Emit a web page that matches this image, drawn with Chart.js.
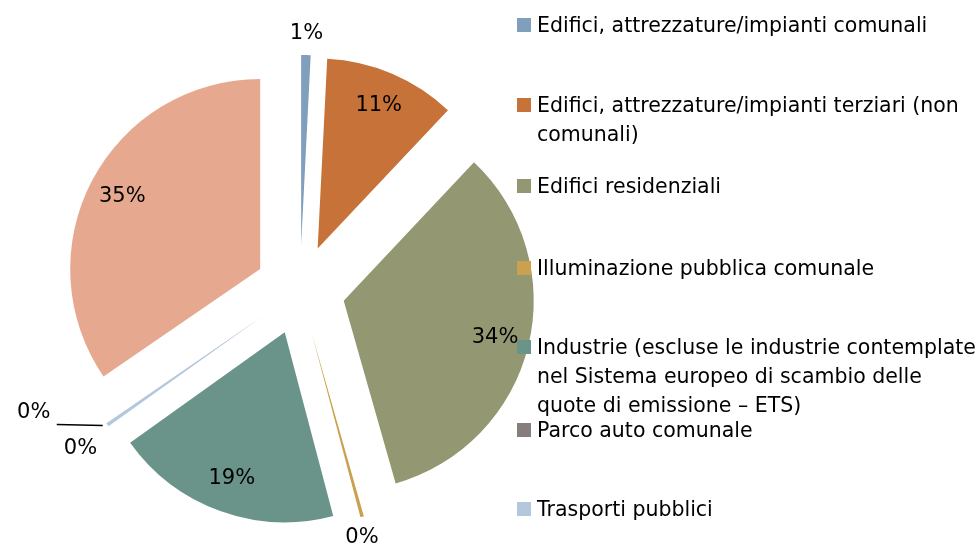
<!DOCTYPE html>
<html>
<head>
<meta charset="utf-8">
<script src="https://cdn.jsdelivr.net/npm/chart.js@4.4.0/dist/chart.umd.min.js"></script>
<style>
  body { margin: 0; background: #fff; overflow: hidden; }
  #wrap { position: relative; width: 978px; height: 552px; }
  #legend { position: absolute; left: 0; top: 0; font-family: "DejaVu Sans"; font-size: 20.5px; color: #000; }
  .item { position: absolute; left: 517px; white-space: nowrap; line-height: 29px; }
  .box { position: absolute; left: 0; top: 7px; width: 14px; height: 14px; }
  .txt { position: absolute; left: 20px; top: 0; }
</style>
</head>
<body>
<div id="wrap">
  <canvas id="pie" width="978" height="552"></canvas>
  <div id="legend"></div>
</div>
<script>
const labels = [
  "Edifici, attrezzature/impianti comunali",
  "Edifici, attrezzature/impianti terziari (non comunali)",
  "Edifici residenziali",
  "Illuminazione pubblica comunale",
  "Industrie (escluse le industrie contemplate nel Sistema europeo di scambio delle quote di emissione – ETS)",
  "Parco auto comunale",
  "Trasporti pubblici",
  "Trasporti privati e commerciali"
];
const values = [0.8, 11.2, 33.5, 0.3, 19.2, 0, 0.3, 34.5];
const colors = ["#809fbc", "#c67239", "#939872", "#c9a14f", "#6a9489", "#877d7d", "#b3c8dc", "#e6a990"];

// legend as shown in the picture (last category is cut off there)
const legendLines = [
  ["Edifici, attrezzature/impianti comunali"],
  ["Edifici, attrezzature/impianti terziari (non", "comunali)"],
  ["Edifici residenziali"],
  ["Illuminazione pubblica comunale"],
  ["Industrie (escluse le industrie contemplate", "nel Sistema europeo di scambio delle", "quote di emissione – ETS)"],
  ["Parco auto comunale"],
  ["Trasporti pubblici"]
];
const legendTops = [11, 91, 172, 254, 333, 416, 495];

const total = values.reduce((a, b) => a + b, 0);
const RADIUS = 190;
const SHIFT = 45;

const legend = document.getElementById("legend");
legendLines.forEach((lines, i) => {
  const d = document.createElement("div");
  d.className = "item";
  d.style.top = legendTops[i] + "px";
  d.innerHTML = '<span class="box" style="background:' + colors[i] + '"></span><span class="txt">' + lines.join("<br>") + "</span>";
  legend.appendChild(d);
});

function pieCenter(chart) {
  const a = chart.chartArea;
  return { x: (a.left + a.right) / 2, y: (a.top + a.bottom) / 2 };
}

// explode every slice by the same distance (chart.js' own offset also narrows
// and enlarges small slices, so move the arcs here instead)
const explode = {
  id: "explode",
  beforeDatasetsDraw(chart) {
    const c = pieCenter(chart);
    chart.getDatasetMeta(0).data.forEach(arc => {
      const mid = (arc.startAngle + arc.endAngle) / 2;
      arc.x = c.x + Math.cos(mid) * SHIFT;
      arc.y = c.y + Math.sin(mid) * SHIFT;
    });
  }
};

const pctLabels = {
  id: "pctLabels",
  afterDatasetsDraw(chart) {
    const ctx = chart.ctx;
    const c = pieCenter(chart);
    const meta = chart.getDatasetMeta(0);
    ctx.save();
    ctx.font = '21px "DejaVu Sans"';
    ctx.fillStyle = "#000";
    ctx.strokeStyle = "#000";
    ctx.lineWidth = 1.5;
    ctx.textAlign = "center";
    ctx.textBaseline = "middle";
    meta.data.forEach((arc, i) => {
      const mid = (arc.startAngle + arc.endAngle) / 2;
      const share = values[i] / total;
      const text = Math.round(share * 100) + "%";
      const d = share < 0.03 ? SHIFT + RADIUS + 22 : SHIFT + RADIUS * 0.82;
      let x = c.x + Math.cos(mid) * d;
      let y = c.y + Math.sin(mid) * d;
      if (i === 5) {
        // moved aside with a leader line, as in the picture
        const tx = c.x + Math.cos(mid) * (SHIFT + RADIUS);
        const ty = c.y + Math.sin(mid) * (SHIFT + RADIUS);
        ctx.beginPath();
        ctx.moveTo(tx - 6, ty - 1);
        ctx.lineTo(tx - 52, ty - 2);
        ctx.stroke();
        x = tx - 75;
        y = ty - 14;
      }
      if (i === 6) {
        x -= 9;
        y += 11;
      }
      if (i === 3) {
        x -= 6;
      }
      ctx.fillText(text, x, y);
    });
    ctx.restore();
  }
};

new Chart(document.getElementById("pie"), {
  type: "pie",
  data: {
    labels: labels,
    datasets: [{
      data: values,
      backgroundColor: colors,
      borderWidth: 0
    }]
  },
  options: {
    responsive: false,
    animation: false,
    events: [],
    radius: RADIUS,
    layout: { padding: { left: 0, right: 378, top: 28, bottom: 0 } },
    plugins: {
      legend: { display: false },
      tooltip: { enabled: false }
    }
  },
  plugins: [explode, pctLabels]
});
</script>
</body>
</html>
